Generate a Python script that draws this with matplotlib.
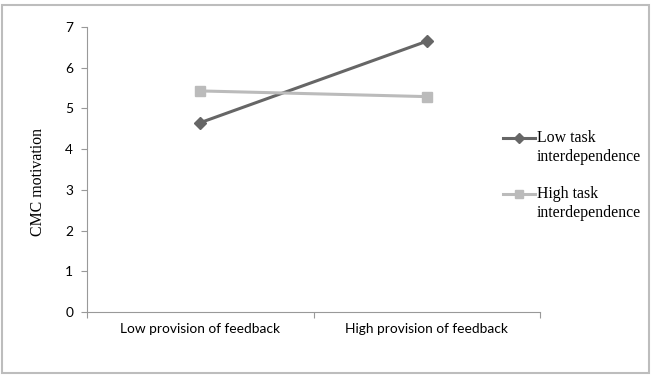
import matplotlib.pyplot as plt
from matplotlib.patches import Rectangle
from matplotlib.lines import Line2D

categories = ["Low provision of feedback", "High provision of feedback"]
low_task = [4.65, 6.65]
high_task = [5.43, 5.29]
series_names = ["Low task\ninterdependence", "High task\ninterdependence"]
yticks = [0, 1, 2, 3, 4, 5, 6, 7]

W, H = 655, 385
fig = plt.figure(figsize=(W / 100, H / 100), dpi=100)
ax = fig.add_axes([87 / W, 1 - 312 / H, (540 - 87) / W, (312 - 27) / H])

styles = [dict(color="#666666", lw=2.2, marker="D", markersize=6),
          dict(color="#bbbbbb", lw=2.2, marker="s", markersize=7.5)]

x = list(range(len(categories)))
ax.plot(x, low_task, **styles[0])
ax.plot(x, high_task, **styles[1])

ax.set_xlim(-0.5, len(categories) - 0.5)
ax.set_ylim(0, 7)
ax.set_yticks(yticks)
ax.set_xticks([-0.5, 0.5, 1.5])
ax.set_xticklabels([])
ax.set_xticks(x, minor=True)
ax.set_xticklabels(categories, minor=True)
ax.tick_params(axis="x", which="minor", length=0, pad=8)
ax.tick_params(axis="x", which="major", length=4, color="#999999")
ax.tick_params(axis="y", length=4, color="#999999", pad=6)
for lab in ax.get_xticklabels(minor=True) + ax.get_yticklabels():
    lab.set_fontfamily("Lato")
    lab.set_fontsize(9.9)
for s in ["top", "right"]:
    ax.spines[s].set_visible(False)
for s in ["left", "bottom"]:
    ax.spines[s].set_color("#999999")

fig.text(38 / W, 1 - 182 / H, "CMC motivation", family="Liberation Serif",
         fontsize=11.4, rotation=90, ha="center", va="center")

# legend, Excel style: handle level with the first line of text
for i, name in enumerate(series_names):
    y0 = 138 + i * 56
    fig.lines.append(Line2D([503 / W, 535 / W], [1 - y0 / H] * 2,
                            transform=fig.transFigure, markevery=[0],
                            **{k: v for k, v in styles[i].items() if k != "marker"}))
    fig.lines.append(Line2D([519 / W], [1 - y0 / H], transform=fig.transFigure,
                            lw=0, marker=styles[i]["marker"],
                            markersize=styles[i]["markersize"] * 0.85,
                            color=styles[i]["color"]))
    for j, part in enumerate(name.split("\n")):
        fig.text(537 / W, 1 - (y0 + 4 + j * 19) / H, part, family="Liberation Serif",
                 fontsize=11.4, ha="left", va="baseline")

fig.patches.append(Rectangle((2 / W, 1 - 373 / H), 647 / W, 368 / H,
                             transform=fig.transFigure, fill=False,
                             edgecolor="#bdbdbd", lw=1.5))

fig.savefig("out.png", dpi=100)
